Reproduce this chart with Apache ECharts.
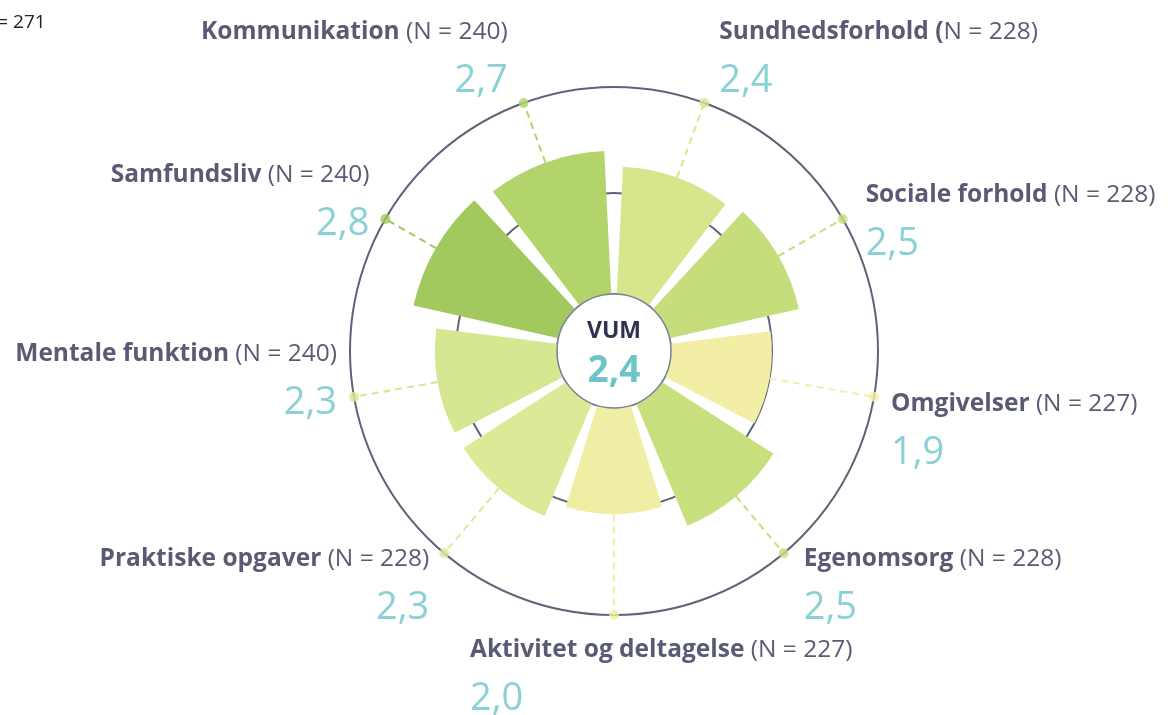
<!DOCTYPE html>
<html>
<head>
<meta charset="utf-8">
<script src="https://cdn.jsdelivr.net/npm/echarts@6/dist/echarts.min.js"></script>
<style>
  html, body { margin: 0; padding: 0; background: #fff; }
  #chart { width: 1170px; height: 715px; }
</style>
</head>
<body>
<div id="chart"></div>
<script>
// categories clockwise, starting just right of 12 o'clock
const categories = ['Sundhedsforhold', 'Sociale forhold', 'Omgivelser', 'Egenomsorg',
  'Aktivitet og deltagelse', 'Praktiske opgaver', 'Mentale funktion', 'Samfundsliv', 'Kommunikation'];
const scores = [2.4, 2.5, 1.9, 2.5, 2.0, 2.3, 2.3, 2.8, 2.7];
const counts = [228, 228, 227, 228, 227, 228, 240, 240, 240];
const totalLabel = 'VUM';
const totalScore = 2.4;
const totalN = 271;

// styling
const barColors = ['#d5e68d', '#c5de7b', '#f3eea6', '#c7df7d', '#f0eea5', '#dbea96', '#d6e792', '#a2c95d', '#b3d46b'];
// label anchor: [dx, dy, align] relative to the dot on the outer ring
const labelPlace = [
  [15, -95, 'left'], [23, -48, 'left'], [17, -17, 'left'], [20, -19, 'left'],
  [-144, 11, 'left'], [-15, -19, 'right'], [-17, -67, 'right'], [-16, -68, 'right'], [-16, -95, 'right']
];
const center = [614, 351];
const ringMax = 3.9;
const navy = '#2f3150';
const teal = '#6dc5ca';
const ringColor = '#5d6479';
const font = 'Open Sans';

const fmt = v => v.toFixed(1).replace('.', ',');

const chart = echarts.init(document.getElementById('chart'));

const guideSeries = categories.map((c, i) => ({
  type: 'line',
  coordinateSystem: 'polar',
  polarIndex: 0,
  silent: true,
  symbol: 'none',
  z: 1,
  lineStyle: { color: barColors[i], width: 2, type: [7, 5] },
  data: [[scores[i], i], [ringMax, i]]
}));

const option = {
  animation: false,
  graphic: [{
    type: 'text', left: -22, top: 13,
    style: { text: 'N = ' + totalN, fontFamily: font, fontSize: 19, fill: '#222' }
  }],
  polar: [
    { center: center, radius: [57, 264] },
    { center: center, radius: [0, 158] }
  ],
  angleAxis: [
    {
      polarIndex: 0, type: 'category', data: categories, startAngle: 90, clockwise: true,
      axisLine: { show: true, lineStyle: { color: ringColor, width: 2 } },
      axisTick: { show: false }, axisLabel: { show: false }, splitLine: { show: false }
    },
    {
      polarIndex: 1, type: 'value', min: 0, max: 1,
      axisLine: { show: true, lineStyle: { color: ringColor, width: 2 } },
      axisTick: { show: false }, axisLabel: { show: false }, splitLine: { show: false }
    }
  ],
  radiusAxis: [
    { polarIndex: 0, type: 'value', min: 0, max: ringMax, show: false },
    { polarIndex: 1, type: 'value', min: 0, max: 1, show: false }
  ],
  series: [
    {
      type: 'bar',
      coordinateSystem: 'polar',
      polarIndex: 0,
      barCategoryGap: '14%',
      z: 3,
      data: scores.map((v, i) => ({ value: v, itemStyle: { color: barColors[i] } }))
    },
    ...guideSeries,
    {
      type: 'scatter',
      coordinateSystem: 'polar',
      polarIndex: 0,
      symbolSize: 10,
      z: 4,
      data: categories.map((c, i) => ({
        value: [ringMax, i],
        itemStyle: { color: barColors[i] },
        label: { align: labelPlace[i][2], offset: [labelPlace[i][0], labelPlace[i][1]] }
      })),
      label: {
        show: true,
        position: 'inside',
        verticalAlign: 'top',
        formatter: p => {
          const i = p.dataIndex;
          const name = i === 0 ? categories[i] + ' (' : categories[i];
          const rest = i === 0 ? 'N = ' + counts[i] + ')' : ' (N = ' + counts[i] + ')';
          return '{n|' + name + '}{m|' + rest + '}\n{v|' + fmt(scores[i]) + '}';
        },
        rich: {
          n: { fontFamily: font, fontWeight: 'bold', fontSize: 24.5, color: navy, lineHeight: 49 },
          m: { fontFamily: font, fontSize: 24.5, color: navy, lineHeight: 49 },
          v: { fontFamily: font, fontSize: 38, color: teal, lineHeight: 49 }
        }
      }
    },
    {
      type: 'pie',
      center: center,
      radius: [0, 57],
      silent: true,
      z: 10,
      itemStyle: { color: '#fff', borderColor: '#7b8294', borderWidth: 1.5 },
      labelLine: { show: false },
      label: {
        show: true,
        position: 'center',
        formatter: '{a|' + totalLabel + '}\n{b|' + fmt(totalScore) + '}',
        rich: {
          a: { fontFamily: font, fontWeight: 'bold', fontSize: 23, color: navy, lineHeight: 40 },
          b: { fontFamily: font, fontWeight: 'bold', fontSize: 37, color: teal, lineHeight: 40 }
        }
      },
      data: [{ value: 1, name: totalLabel }]
    }
  ]
};

chart.setOption(option);
</script>
</body>
</html>
